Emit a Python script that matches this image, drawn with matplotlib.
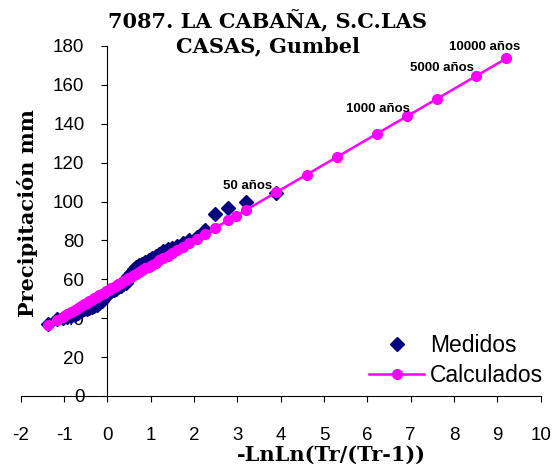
import matplotlib
matplotlib.use("Agg")
import matplotlib.pyplot as plt

plt.rcParams["axes.unicode_minus"] = False

# ---- data ----
# Measured maxima (descending) and their reduced-variable positions -LnLn(Tr/(Tr-1))
x_medidos = [3.902, 3.199, 2.783, 2.484, 2.250, 2.057, 1.892, 1.747, 1.617, 1.500,
             1.392, 1.293, 1.200, 1.113, 1.031, 0.953, 0.878, 0.807, 0.738, 0.672,
             0.607, 0.545, 0.484, 0.425, 0.367, 0.309, 0.253, 0.197, 0.142, 0.087,
             0.033, -0.021, -0.076, -0.131, -0.186, -0.241, -0.298, -0.356, -0.415, -0.476,
             -0.539, -0.606, -0.676, -0.752, -0.834, -0.927, -1.034, -1.169, -1.364]
y_medidos = [104.5, 99.9, 96.9, 93.5, 85.5, 82.0, 80.0, 78.5, 77.0, 76.3,
             75.5, 74.5, 73.2, 72.0, 71.0, 70.0, 69.0, 68.0, 67.3, 66.5,
             65.5, 63.5, 61.5, 58.2, 57.5, 56.8, 56.0, 55.2, 54.5, 53.8,
             53.0, 52.0, 50.5, 49.0, 48.0, 47.0, 46.5, 46.0, 45.5, 45.0,
             44.5, 43.5, 42.5, 41.8, 41.0, 40.5, 40.0, 39.5, 37.0]

# Calculated (Gumbel) values
x_calc = [-1.364, -1.169, -1.034, -0.927, -0.834, -0.752, -0.676, -0.606, -0.539, -0.476,
          -0.415, -0.356, -0.298, -0.241, -0.186, -0.131, -0.076, -0.021, 0.033, 0.087,
          0.142, 0.197, 0.253, 0.309, 0.367, 0.425, 0.484, 0.545, 0.607, 0.672,
          0.738, 0.807, 0.878, 0.953, 1.031, 1.113, 1.200, 1.293, 1.392, 1.500,
          1.617, 1.747, 1.892, 2.057, 2.250, 2.484, 2.783, 2.970, 3.199, 3.902,
          4.600, 5.296, 6.214, 6.907, 7.600, 8.517, 9.210]
y_calc = [36.51, 39.04, 40.79, 42.18, 43.38, 44.45, 45.43, 46.34, 47.21, 48.03,
          48.82, 49.58, 50.33, 51.07, 51.79, 52.50, 53.21, 53.93, 54.63, 55.33,
          56.04, 56.76, 57.48, 58.21, 58.96, 59.71, 60.48, 61.27, 62.07, 62.92,
          63.77, 64.67, 65.59, 66.56, 67.57, 68.64, 69.76, 70.97, 72.25, 73.66,
          75.17, 76.86, 78.74, 80.88, 83.38, 86.42, 90.30, 92.72, 95.69, 104.81,
          113.86, 122.89, 134.80, 143.78, 152.77, 164.67, 173.65]

# Return-period labels and their positions
ann_text = ["50 años", "1000 años", "5000 años", "10000 años"]
ann_x = [3.24, 6.25, 7.72, 8.70]
ann_y = [108.0, 147.5, 168.9, 179.4]

x_ticks = list(range(-2, 11))
y_ticks = list(range(0, 181, 20))

title = "7087. LA CABAÑA, S.C.LAS\nCASAS, Gumbel"
xlabel = "-LnLn(Tr/(Tr-1))"
ylabel = "Precipitación mm"

# ---- figure ----
W, H = 560, 474
fig = plt.figure(figsize=(W / 100, H / 100), dpi=100)
ax = fig.add_axes([20.7 / W, (H - 396) / H, 520 / W, 350 / H])

serif = ["DejaVu Serif", "Liberation Serif"]
sans = ["Liberation Sans", "DejaVu Sans"]
narrow = ["Liberation Sans Narrow", "Liberation Sans", "DejaVu Sans"]

ax.plot(x_medidos, y_medidos, linestyle="none", marker="D", markersize=7.2,
        color="#000080", label="Medidos", clip_on=False, zorder=3)
ax.plot(x_calc, y_calc, linestyle="-", linewidth=1.8, marker="o", markersize=7,
        color="#FF00FF", label="Calculados", clip_on=False, zorder=4)

ax.set_xlim(-2, 10)
ax.set_ylim(0, 180)
ax.set_xticks(x_ticks)
ax.set_yticks(y_ticks)

for s in ["top", "right"]:
    ax.spines[s].set_visible(False)
ax.spines["left"].set_position(("data", 0))
ax.spines["bottom"].set_position(("data", 0))
for s in ["left", "bottom"]:
    ax.spines[s].set_linewidth(0.8)
    ax.spines[s].set_color("black")

ax.tick_params(axis="x", direction="out", length=4.5, width=0.8, pad=18,
               labelsize=13.5)
ax.tick_params(axis="y", direction="out", length=4.5, width=0.8, pad=12,
               labelsize=13.5)
for lab in ax.get_xticklabels() + ax.get_yticklabels():
    lab.set_family(sans)

for t, xx, yy in zip(ann_text, ann_x, ann_y):
    ax.text(xx, yy, t, ha="center", va="center", fontsize=9.5,
            fontweight="bold", family=narrow, zorder=5)

fig.text(268 / W, 1 - 33 / H, title, ha="center", va="center",
         fontsize=15, fontweight="bold", family=serif, linespacing=1.2)

fig.text(331 / W, 1 - 455 / H, xlabel, ha="center", va="center",
         fontsize=15, fontweight="bold", family=serif)
fig.text(28 / W, 1 - 213 / H, ylabel, ha="center", va="center",
         rotation=90, fontsize=15, fontweight="bold", family=serif)

leg = ax.legend(loc="lower right", bbox_to_anchor=(1.022, 0.0), frameon=False,
                prop={"family": sans, "size": 16.5}, handlelength=2.4,
                handletextpad=0.25, labelspacing=0.3, borderaxespad=0.0)

fig.savefig("out.png", dpi=100)
